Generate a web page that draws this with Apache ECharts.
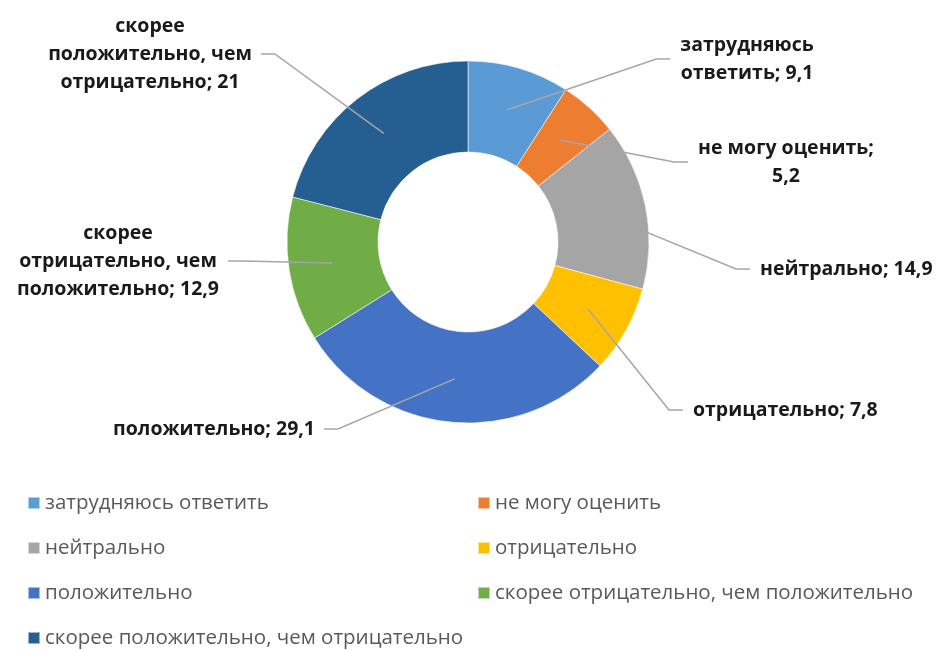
<!DOCTYPE html>
<html>
<head>
<meta charset="utf-8">
<script src="https://cdn.jsdelivr.net/npm/echarts@6/dist/echarts.min.js"></script>
<style>
html,body{margin:0;padding:0;background:#ffffff;}
#c{width:941px;height:650px;}
</style>
</head>
<body>
<div id="c"></div>
<script>
// ---- data ----
const categories = [
  'затрудняюсь ответить',
  'не могу оценить',
  'нейтрально',
  'отрицательно',
  'положительно',
  'скорее отрицательно, чем положительно',
  'скорее положительно, чем отрицательно'
];
const values = [9.1, 5.2, 14.9, 7.8, 29.1, 12.9, 21];
// label text templates ({v} = value), line breaks as in the reference
const labelTemplates = [
  'затрудняюсь\nответить; {v}',
  'не могу оценить;\n{v}',
  'нейтрально; {v}',
  'отрицательно; {v}',
  'положительно; {v}',
  'скорее\nотрицательно, чем\nположительно; {v}',
  'скорее\nположительно, чем\nотрицательно; {v}'
];

// ---- styling / layout (not data) ----
const colors = ['#5B9BD5', '#ED7D31', '#A5A5A5', '#FFC000', '#4472C4', '#70AD47', '#255E91'];
const CENTER = [468, 242];
const RADIUS = [90, 181];
const labelPlace = [
  {x: 747, y: 59,  align: 'center'},
  {x: 786, y: 162, align: 'center'},
  {x: 760, y: 269, align: 'left'},
  {x: 693, y: 410, align: 'left'},
  {x: 315, y: 429, align: 'right'},
  {x: 118, y: 261, align: 'center'},
  {x: 150, y: 54,  align: 'center'}
];

const chart = echarts.init(document.getElementById('c'), null, {renderer: 'canvas'});

function fmt(v) { return String(v).replace('.', ','); }

const ringData = categories.map((name, i) => ({
  name: name,
  value: values[i],
  itemStyle: {color: colors[i]}
}));
// same values, drawn transparent on top only to carry labels and leader lines
const labelData = categories.map((name, i) => ({
  name: name,
  value: values[i],
  itemStyle: {color: 'rgba(0,0,0,0)', borderWidth: 0}
}));

const leftItems = categories.filter((_, i) => i % 2 === 0);
const rightItems = categories.filter((_, i) => i % 2 === 1);

const legendBase = {
  orient: 'vertical',
  top: 491,
  height: 200,
  padding: 0,
  itemWidth: 12,
  itemHeight: 12,
  itemGap: 21,
  icon: 'rect',
  selectedMode: false,
  textStyle: {
    fontFamily: 'Open Sans',
    fontSize: 20.5,
    color: '#595959',
    lineHeight: 24
  }
};

chart.setOption({
  animation: false,
  backgroundColor: '#ffffff',
  legend: [
    Object.assign({}, legendBase, {left: 27, data: leftItems}),
    Object.assign({}, legendBase, {left: 477, data: rightItems})
  ],
  series: [{
    type: 'pie',
    z: 2,
    center: CENTER,
    radius: RADIUS,
    startAngle: 90,
    clockwise: true,
    silent: true,
    itemStyle: {
      borderColor: 'rgba(255,255,255,0.55)',
      borderWidth: 1
    },
    label: {show: false},
    labelLine: {show: false},
    data: ringData
  }, {
    type: 'pie',
    z: 5,
    center: CENTER,
    radius: RADIUS,
    startAngle: 90,
    clockwise: true,
    silent: true,
    avoidLabelOverlap: false,
    label: {
      show: true,
      position: 'outside',
      overflow: 'none',
      fontFamily: 'Open Sans',
      fontWeight: 'bold',
      fontSize: 19.5,
      lineHeight: 28,
      color: '#1a1a1a',
      formatter: p => labelTemplates[p.dataIndex].replace('{v}', fmt(p.value))
    },
    labelLine: {
      show: true,
      length: 10,
      length2: 10,
      lineStyle: {color: '#a6a6a6', width: 1.5}
    },
    labelLayout: function (p) {
      const i = p.dataIndex;
      const pl = labelPlace[i];
      const w = p.labelRect.width;
      const left = pl.align === 'left' ? pl.x : (pl.align === 'right' ? pl.x - w : pl.x - w / 2);
      const right = left + w;
      // library's own leader start (outer edge at mid-angle), pulled into the middle of the ring
      const p0 = p.labelLinePoints[0];
      const dx = p0[0] - CENTER[0], dy = p0[1] - CENTER[1];
      const d = Math.sqrt(dx * dx + dy * dy) || 1;
      const rm = (RADIUS[0] + RADIUS[1]) / 2 + 2;
      const s = [CENTER[0] + dx / d * rm, CENTER[1] + dy / d * rm];
      const onRight = s[0] < left;
      const ex = onRight ? left - 10 : right + 9;
      const kx = onRight ? ex - 14 : ex + 14;
      return {
        x: pl.x,
        y: pl.y,
        align: pl.align,
        verticalAlign: 'middle',
        labelLinePoints: [s, [kx, pl.y], [ex, pl.y]]
      };
    },
    data: labelData
  }]
});
</script>
</body>
</html>
